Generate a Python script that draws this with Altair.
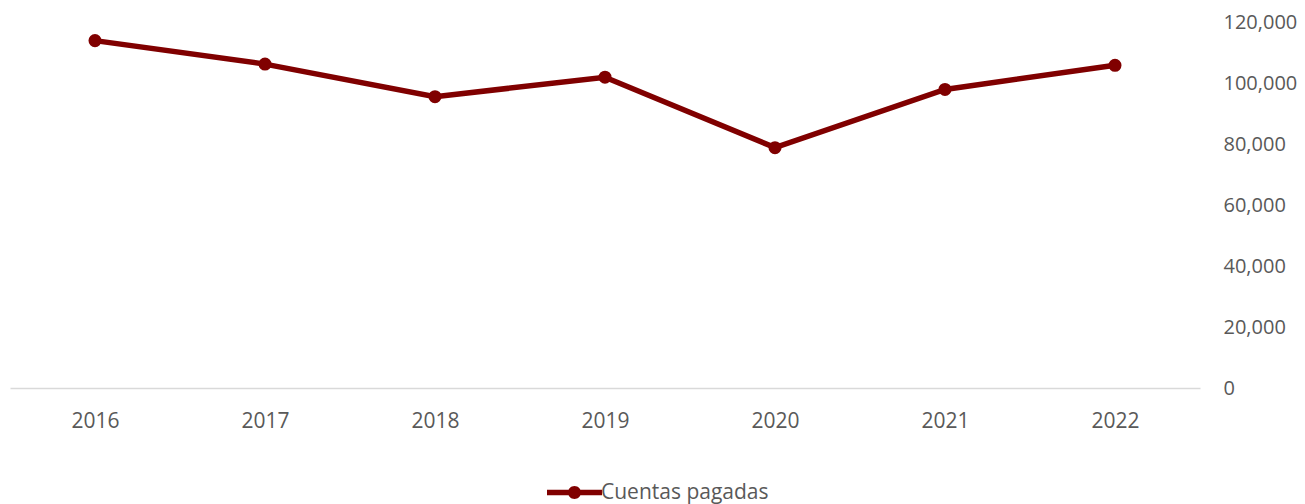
import altair as alt
import pandas as pd

years = ["2016", "2017", "2018", "2019", "2020", "2021", "2022"]
values = [113900, 106200, 95500, 101900, 78800, 97900, 105800]
series_name = "Cuentas pagadas"

df = pd.DataFrame({"year": years, "value": values, "series": [series_name] * len(years)})

COLOR = "#800000"
TEXT = "#595959"
FONT = "Open Sans"
FS = 21

legend_path = (
    "M-5.5,-0.54 L5.5,-0.54 L5.5,0.54 L-5.5,0.54 Z "
    "M-1.3,0 A1.3,1.3 0 1,1 1.3,0 A1.3,1.3 0 1,1 -1.3,0 Z"
)

x_enc = alt.X(
    "year:O",
    sort=years,
    scale=alt.Scale(padding=0.5),
    axis=alt.Axis(
        title=None, labelAngle=0, ticks=False, tickSize=0, grid=False,
        domainColor="#D9D9D9", domainWidth=1.5,
        labelColor=TEXT, labelFont=FONT, labelFontSize=FS, labelPadding=22,
    ),
)
y_enc = alt.Y(
    "value:Q",
    scale=alt.Scale(domain=[0, 120000]),
    axis=alt.Axis(
        title=None, orient="right", values=[0, 20000, 40000, 60000, 80000, 100000, 120000],
        format=",d", domain=False, ticks=False, tickSize=0, grid=False,
        labelColor=TEXT, labelFont=FONT, labelFontSize=20, labelPadding=23,
    ),
)

line = alt.Chart(df).mark_line(color=COLOR, strokeWidth=5.5).encode(x=x_enc, y=y_enc)
points = alt.Chart(df).mark_point(filled=True, size=170, opacity=1).encode(
    x=x_enc,
    y=y_enc,
    color=alt.Color(
        "series:N",
        scale=alt.Scale(range=[COLOR]),
        legend=alt.Legend(
            title=None, orient="none", legendX=554, legendY=460,
            symbolType=legend_path, symbolSize=100, symbolStrokeWidth=0,
            labelColor=TEXT, labelFont=FONT, labelFontSize=FS, labelOffset=16,
            labelLimit=400,
        ),
    ),
)

chart = (
    alt.layer(line, points)
    .properties(
        width=1190, height=366,
        padding={"left": 2, "top": 14, "right": 97, "bottom": 116},
        autosize=alt.AutoSizeParams(type="none"),
    )
    .configure_view(stroke=None)
)

chart.save("out.html", embed_options={"renderer": "svg", "actions": False})
